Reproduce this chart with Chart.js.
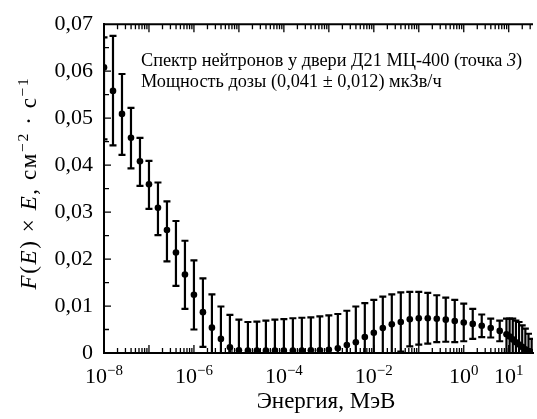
<!DOCTYPE html>
<html>
<head>
<meta charset="utf-8">
<script src="https://cdn.jsdelivr.net/npm/chart.js@4.4.1/dist/chart.umd.min.js"></script>
<style>
  html, body { margin: 0; padding: 0; background: #fff; }
  #wrap { width: 537px; height: 419px; position: relative; }
</style>
</head>
<body>
<div id="wrap"><canvas id="spectrumChart"></canvas></div>
<script>
// Показатели степени энергии (lg E, МэВ)
const logEnergy = [
  -8.0, -7.8, -7.6, -7.4, -7.2, -7.0, -6.8, -6.6, -6.4, -6.2,
  -6.0, -5.8, -5.6, -5.4, -5.2, -5.0, -4.8, -4.6, -4.4, -4.2,
  -4.0, -3.8, -3.6, -3.4, -3.2, -3.0, -2.8, -2.6, -2.4, -2.2,
  -2.0, -1.8, -1.6, -1.4, -1.2, -1.0, -0.8, -0.6, -0.4, -0.2,
  0.0, 0.2, 0.4, 0.6, 0.8,
  0.95, 1.02, 1.09, 1.16, 1.23, 1.30, 1.37, 1.44, 1.51
];
// F(E) x E, см^-2 с^-1
const fluxValues = [
  0.0608, 0.0558, 0.0509, 0.0458, 0.0408, 0.0359, 0.0309, 0.0262, 0.0214, 0.0167,
  0.0124, 0.0087, 0.0054, 0.0030, 0.0012, 0.0006, 0.0005, 0.0005, 0.0005, 0.0005,
  0.0005, 0.0005, 0.0005, 0.0006, 0.0006, 0.0007, 0.0010, 0.0017, 0.0023, 0.0034,
  0.0043, 0.0053, 0.0061, 0.0066, 0.0072, 0.0074, 0.0074, 0.0073, 0.0071, 0.0068,
  0.0065, 0.0062, 0.0058, 0.0053, 0.0047,
  0.0040, 0.0035, 0.0029, 0.0023, 0.0018, 0.0013, 0.0008, 0.0004, 0.0002
];
// Верхние и нижние границы погрешностей
const upperBounds = [
  0.0672, 0.0675, 0.0594, 0.0522, 0.0458, 0.0409, 0.0363, 0.0323, 0.0281, 0.0239,
  0.0197, 0.0159, 0.0125, 0.0099, 0.0081, 0.0071, 0.0066, 0.0067, 0.0069, 0.0071,
  0.0072, 0.0074, 0.0075, 0.0076, 0.0078, 0.0080, 0.0083, 0.0090, 0.0099, 0.0106,
  0.0113, 0.0120, 0.0125, 0.0129, 0.0130, 0.0130, 0.0128, 0.0123, 0.0118, 0.0113,
  0.0105, 0.0094, 0.0082, 0.0073, 0.0069,
  0.0073, 0.0073, 0.0073, 0.0069, 0.0066, 0.0059, 0.0052, 0.0041, 0.0030
];
const lowerBounds = [
  0.0455, 0.0442, 0.0422, 0.0393, 0.0356, 0.0307, 0.0251, 0.0195, 0.0143, 0.0094,
  0.0050, 0.0013, 0, 0, 0, 0, 0, 0, 0, 0,
  0, 0, 0, 0, 0, 0, 0, 0, 0, 0,
  0, 0, 0, 0.0003, 0.0014, 0.0018, 0.0020, 0.0023, 0.0024, 0.0023,
  0.0025, 0.0030, 0.0034, 0.0033, 0.0025,
  0, 0, 0, 0, 0, 0, 0, 0, 0
];
const xLabelExponents = [-8, -6, -4, -2, 0, 1];

const serif = "'Liberation Serif', 'DejaVu Serif', serif";

// Рисование строки из фрагментов (курсив, верхний индекс)
function segWidth(ctx, segs, size) {
  let w = 0;
  segs.forEach(s => {
    ctx.font = (s.i ? 'italic ' : '') + (s.sup ? size * 0.68 : size) + 'px ' + serif;
    w += ctx.measureText(s.t).width;
  });
  return w;
}
function drawSegs(ctx, segs, x, y, size) {
  ctx.textAlign = 'left';
  ctx.textBaseline = 'alphabetic';
  segs.forEach(s => {
    ctx.font = (s.i ? 'italic ' : '') + (s.sup ? size * 0.68 : size) + 'px ' + serif;
    ctx.fillText(s.t, x, s.sup ? y - size * 0.36 : y);
    x += ctx.measureText(s.t).width;
  });
}

const errorBars = {
  id: 'errorBars',
  beforeDatasetsDraw(chart) {
    const { ctx, chartArea: a, scales: { x, y } } = chart;
    ctx.save();
    ctx.beginPath();
    ctx.rect(a.left, a.top, a.right - a.left, a.bottom - a.top + 2);
    ctx.clip();
    ctx.strokeStyle = '#000';
    ctx.lineWidth = 2.2;
    logEnergy.forEach((e, i) => {
      const px = x.getPixelForValue(Math.pow(10, e));
      const yt = y.getPixelForValue(upperBounds[i]);
      const yb = y.getPixelForValue(lowerBounds[i]);
      ctx.beginPath();
      ctx.moveTo(px, yt); ctx.lineTo(px, yb);
      ctx.moveTo(px - 3.5, yt); ctx.lineTo(px + 3.5, yt);
      ctx.moveTo(px - 3.5, yb); ctx.lineTo(px + 3.5, yb);
      ctx.stroke();
    });
    ctx.restore();
  }
};

const frameTicks = {
  id: 'frameTicks',
  afterDraw(chart) {
    const { ctx, chartArea: a, scales: { x, y } } = chart;
    ctx.save();
    ctx.strokeStyle = '#000';
    ctx.lineWidth = 2;
    ctx.beginPath();
    ctx.moveTo(a.left - 1, a.top); ctx.lineTo(a.right, a.top);
    ctx.stroke();

    ctx.lineWidth = 1.3;
    ctx.beginPath();
    for (let d = -8; d <= 1; d++) {
      for (let m = 1; m <= 9; m++) {
        const v = m * Math.pow(10, d);
        if (v > x.max) continue;
        const px = x.getPixelForValue(v);
        const len = m === 1 ? 8 : 5;
        ctx.moveTo(px, a.top); ctx.lineTo(px, a.top + len);
        ctx.moveTo(px, a.bottom); ctx.lineTo(px, a.bottom - len);
      }
    }
    for (let k = 1; k < 14; k++) {
      const py = y.getPixelForValue(k * 0.005);
      const len = k % 2 === 0 ? 7 : 5;
      ctx.moveTo(a.left, py); ctx.lineTo(a.left + len, py);
    }
    ctx.stroke();
    ctx.restore();
  }
};

const texts = {
  id: 'texts',
  afterDraw(chart) {
    const { ctx, chartArea: a, scales: { x } } = chart;
    ctx.save();
    ctx.fillStyle = '#000';

    // подписи оси X: 10^n
    xLabelExponents.forEach(n => {
      const px = x.getPixelForValue(Math.pow(10, n));
      const segs = [{ t: '10' }, { t: (n < 0 ? '\u2212' : '') + Math.abs(n), sup: true }];
      const w = segWidth(ctx, segs, 22);
      drawSegs(ctx, segs, px - w / 2, a.bottom + 30, 22);
    });

    // заголовок оси X
    ctx.font = '23px ' + serif;
    ctx.textAlign = 'center';
    ctx.textBaseline = 'alphabetic';
    ctx.fillText('Энергия, МэВ', 326, 408);

    // заголовок оси Y
    const ySegs = [
      { t: 'F', i: true }, { t: '(' }, { t: 'E', i: true }, { t: ') \u00d7 ' },
      { t: 'E', i: true }, { t: ', см' }, { t: '\u22122', sup: true },
      { t: ' \u00b7 с' }, { t: '\u22121', sup: true }
    ];
    ctx.translate(36, 183);
    ctx.rotate(-Math.PI / 2);
    ctx.letterSpacing = '1.6px';
    const yw = segWidth(ctx, ySegs, 23);
    drawSegs(ctx, ySegs, -yw / 2, 0, 23);
    ctx.letterSpacing = '0px';
    ctx.setTransform(1, 0, 0, 1, 0, 0);

    // надпись на поле графика
    drawSegs(ctx, [
      { t: 'Спектр нейтронов у двери Д21 МЦ-400 (точка ' }, { t: '3', i: true }, { t: ')' }
    ], 141, 66, 18.3);
    drawSegs(ctx, [{ t: 'Мощность дозы (0,041 \u00b1 0,012) мкЗв/ч' }], 141, 87, 18.3);
    ctx.restore();
  }
};

const points = logEnergy.map((e, i) => ({ x: Math.pow(10, e), y: fluxValues[i] }));

const ctx = document.getElementById('spectrumChart').getContext('2d');
const spectrumChart = new Chart(ctx, {
  type: 'scatter',
  data: {
    datasets: [{
      data: points,
      pointRadius: 3.3,
      pointBackgroundColor: '#000',
      pointBorderColor: '#000',
      pointBorderWidth: 0,
      showLine: false
    }]
  },
  options: {
    responsive: true,
    maintainAspectRatio: false,
    animation: false,
    layout: { padding: { top: 20, right: 0, bottom: 0, left: 0 } },
    plugins: { legend: { display: false }, tooltip: { enabled: false } },
    scales: {
      x: {
        type: 'logarithmic',
        min: 1e-8,
        max: Math.pow(10, 1.54),
        ticks: { display: false },
        grid: { drawOnChartArea: false, drawTicks: false },
        border: { display: true, color: '#000', width: 2 },
        afterFit(s) { s.height = 66; }
      },
      y: {
        min: 0,
        max: 0.07,
        ticks: {
          stepSize: 0.01,
          padding: 11,
          color: '#000',
          font: { family: serif, size: 22 },
          callback: v => v === 0 ? '0' : v.toFixed(2).replace('.', ',')
        },
        grid: { drawOnChartArea: false, drawTicks: false },
        border: { display: true, color: '#000', width: 2 },
        afterFit(s) { s.width = 104; }
      }
    }
  },
  plugins: [errorBars, frameTicks, texts]
});
</script>
</body>
</html>
